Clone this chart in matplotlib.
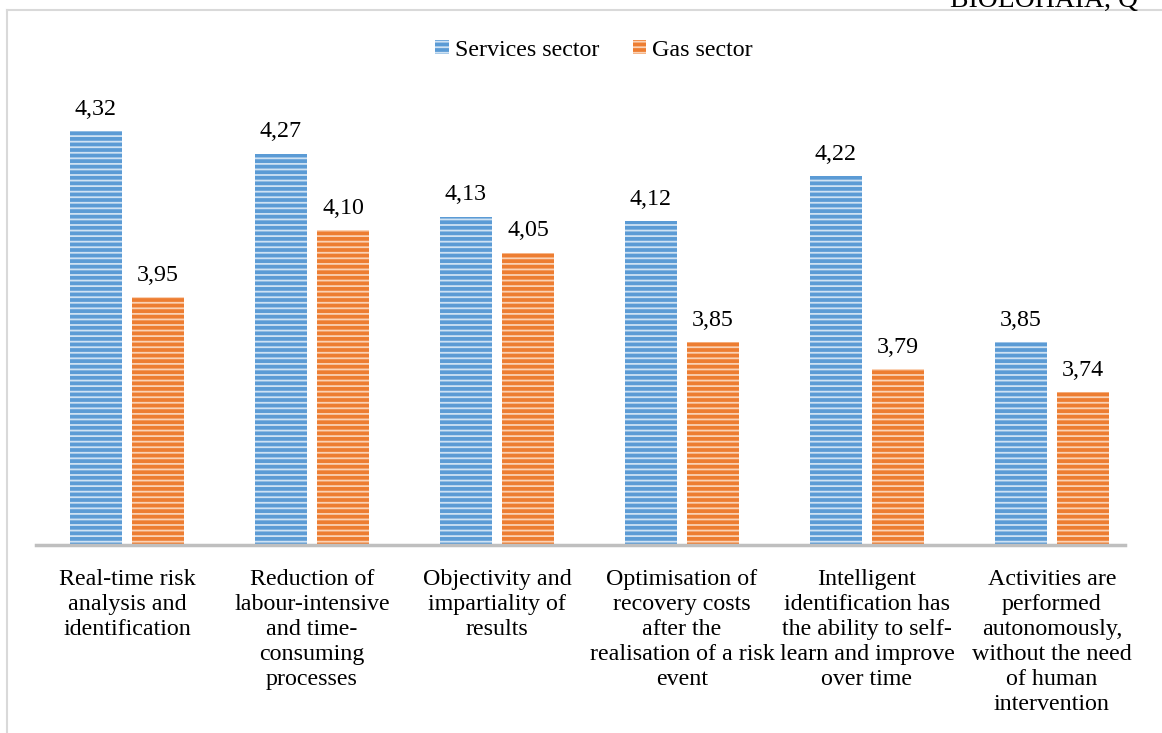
import matplotlib.pyplot as plt
from matplotlib.lines import Line2D
from matplotlib.patches import Patch

plt.rcParams['font.family'] = ['Liberation Serif', 'DejaVu Serif']
plt.rcParams['hatch.linewidth'] = 1.3

categories = [
    'Real-time risk\nanalysis and\nidentification',
    'Reduction of\nlabour-intensive\nand time-\nconsuming\nprocesses',
    'Objectivity and\nimpartiality of\nresults',
    'Optimisation of\nrecovery costs\nafter the\nrealisation of a risk\nevent',
    'Intelligent\nidentification has\nthe ability to self-\nlearn and improve\nover time',
    'Activities are\nperformed\nautonomously,\nwithout the need\nof human\nintervention',
]
services = [4.32, 4.27, 4.13, 4.12, 4.22, 3.85]
gas = [3.95, 4.10, 4.05, 3.85, 3.79, 3.74]
series_names = ['Services sector', 'Gas sector']

blue = '#5B9BD5'
orange = '#ED7D31'
blue_hatch = '#cfe2f3'
orange_hatch = '#fad2b5'
fs = 17.3

fig = plt.figure(figsize=(11.62, 7.33), dpi=100)
ax = fig.add_axes([36 / 1162, 1 - 545 / 733, 1089 / 1162, 495 / 733])

x = list(range(len(categories)))
w = 0.28
off = 0.168
base = 3.4
ax.bar([i - off for i in x], [v - base for v in services], w, bottom=base,
       color=blue, edgecolor=blue_hatch, linewidth=0, hatch='---')
ax.bar([i + off for i in x], [v - base for v in gas], w, bottom=base,
       color=orange, edgecolor=orange_hatch, linewidth=0, hatch='---')

for i in x:
    ax.text(i - off, services[i] + 0.036, f'{services[i]:.2f}'.replace('.', ','),
            ha='center', va='baseline', fontsize=fs)
    ax.text(i + off, gas[i] + 0.036, f'{gas[i]:.2f}'.replace('.', ','),
            ha='center', va='baseline', fontsize=fs)

ax.set_xlim(-0.4919, 5.3946)
ax.set_ylim(base, 4.5)
ax.set_xticks(x)
ax.set_xticklabels(categories, fontsize=fs, linespacing=1.26, va='top')
ax.tick_params(axis='x', length=0, pad=17)
ax.set_yticks([])
for s in ['top', 'right', 'left']:
    ax.spines[s].set_visible(False)
ax.spines['bottom'].set_color('#bfbfbf')
ax.spines['bottom'].set_linewidth(2.5)

handles = [Patch(facecolor=blue, edgecolor=blue_hatch, hatch='---', linewidth=0),
           Patch(facecolor=orange, edgecolor=orange_hatch, hatch='---', linewidth=0)]
fig.legend(handles, series_names, loc='center', bbox_to_anchor=(594 / 1162, 1 - 50 / 733),
           ncol=2, frameon=False, fontsize=fs, handlelength=0.55, handleheight=0.55,
           handletextpad=0.25, columnspacing=1.4)

# page frame lines
fig.add_artist(Line2D([7 / 1162, 1], [1 - 10 / 733, 1 - 10 / 733], color='#d9d9d9', lw=1.5))
fig.add_artist(Line2D([7 / 1162, 7 / 1162], [0, 1 - 10 / 733], color='#d9d9d9', lw=1.5))
# header of the page, cut by the top edge as in the source
fig.text(950 / 1162, 1 - 7 / 733, 'BIOLOHAIA, Q', fontsize=20, va='baseline', ha='left')

fig.savefig('out.png', dpi=100)
